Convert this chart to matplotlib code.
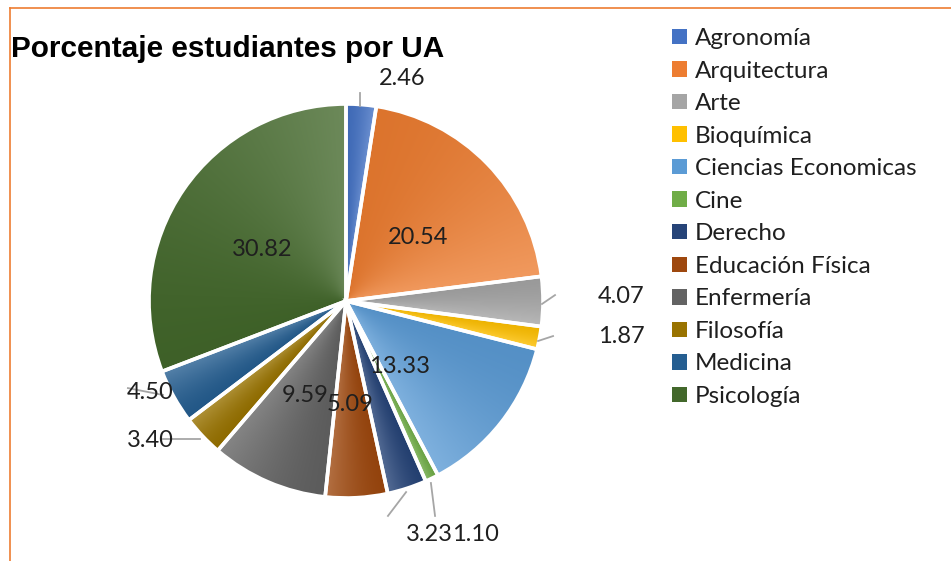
import numpy as np
import matplotlib
matplotlib.use('Agg')
import matplotlib.pyplot as plt
from matplotlib.lines import Line2D
from matplotlib.patches import Wedge, Patch
from matplotlib.colors import to_rgb

categories = ['Agronomía', 'Arquitectura', 'Arte', 'Bioquímica', 'Ciencias Economicas',
              'Cine', 'Derecho', 'Educación Física', 'Enfermería', 'Filosofía',
              'Medicina', 'Psicología']
values = [2.46, 20.54, 4.07, 1.87, 13.33, 1.10, 3.23, 5.09, 9.59, 3.40, 4.50, 30.82]
title = 'Porcentaje estudiantes por UA'

colors = ['#4472C4', '#ED7D31', '#A5A5A5', '#FFC000', '#5B9BD5', '#70AD47',
          '#264478', '#9E480E', '#636363', '#997300', '#255E91', '#43682B']

# label positions (pie-radius units, relative to pie centre)
label_pos = [(0.287, 1.129), (0.365, 0.320), (1.398, 0.023), (1.400, -0.180),
             (0.274, -0.330), (0.655, -1.183), (0.421, -1.183), (0.020, -0.523),
             (-0.208, -0.482), (-0.995, -0.706), (-0.995, -0.467), (-0.426, 0.259)]
leaders = {0: ((0.071, 0.99), (0.071, 1.056)),
           2: ((0.995, -0.015), (1.061, 0.030)),
           3: ((0.975, -0.203), (1.051, -0.178)),
           5: ((0.431, -0.924), (0.452, -1.091)),
           6: ((0.305, -0.970), (0.213, -1.091)),
           9: ((-0.741, -0.701), (-0.929, -0.701)),
           10: ((-0.929, -0.477), (-1.107, -0.442))}

W, H = 951, 561
fig = plt.figure(figsize=(W / 100, H / 100), dpi=100)
R = 197.0
cx, cy = 346, 301
ax = fig.add_axes([0, 0, 1, 1])
wedges, _ = ax.pie(values, colors=colors, startangle=90, counterclock=False, radius=1,
                   wedgeprops=dict(edgecolor='none', linewidth=0))
ax.set_aspect('auto')
ax.axis('off')

# gradient fills (lighter towards the clockwise end of each slice)
n = 500
xs = np.linspace(-1.05, 1.05, n)
X, Y = np.meshgrid(xs, xs)
ang = np.degrees(np.arctan2(Y, X))
for w, c in zip(wedges, colors):
    t1, t2 = w.theta1, w.theta2
    a = (ang - t1) % 360
    t = np.clip(a / (t2 - t1), 0, 1)[..., None]
    base = np.array(to_rgb(c))
    light = base + (1 - base) * 0.22
    dark = base * 0.93
    s = (1 - t) ** 1.6
    img = light * s + dark * (1 - s)
    im = ax.imshow(img, extent=(-1.05, 1.05, -1.05, 1.05), origin='lower',
                   zorder=2, interpolation='bilinear')
    im.set_clip_path(w)
    ax.add_patch(Wedge(w.center, w.r, w.theta1, w.theta2, facecolor='none',
                       edgecolor='white', linewidth=2.6, zorder=3))
ax.set_xlim(-cx / R, (W - cx) / R)
ax.set_ylim(-(H - cy) / R, cy / R)

for i, (p0, p1) in leaders.items():
    ax.add_line(Line2D([p0[0], p1[0]], [p0[1], p1[1]], color='#A6A6A6', lw=1.3, zorder=4))

for i, v in enumerate(values):
    x, y = label_pos[i]
    ax.text(x, y, f'{v:.2f}', ha='center', va='center', fontsize=17,
            family='Lato', color='#1f1f1f', zorder=5)

fig.text(11 / W, 1 - 57 / H, title, ha='left', va='baseline', fontsize=21.4,
         fontweight='bold', family='Liberation Sans', color='black')

handles = [Patch(facecolor=c, edgecolor='none') for c in colors]
fig.legend(handles, categories, loc='upper left', bbox_to_anchor=(672 / W, 1 - 28 / H),
           frameon=False, prop={'family': 'Lato', 'size': 17.5},
           handlelength=0.62, handleheight=0.6, handletextpad=0.33,
           labelspacing=0.475, borderpad=0, borderaxespad=0, labelcolor='#1f1f1f')

# orange frame (top and left edges visible)
fig.add_artist(Line2D([10 / W, 1], [1 - 8 / H, 1 - 8 / H], color='#ED7D31', lw=1.2))
fig.add_artist(Line2D([10 / W, 10 / W], [1 - 8 / H, 0], color='#ED7D31', lw=1.2))

fig.savefig('out.png', dpi=100)
